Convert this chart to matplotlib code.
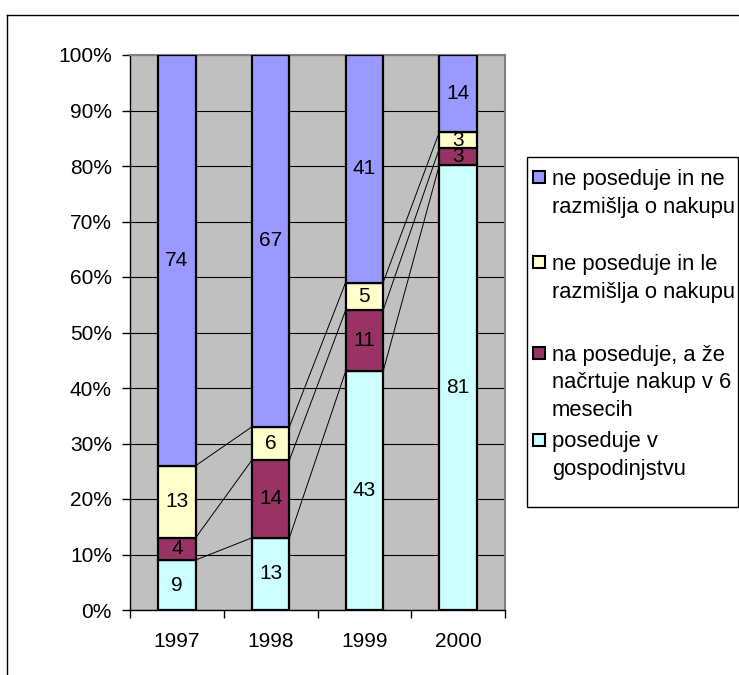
import matplotlib
matplotlib.use("Agg")
import matplotlib.pyplot as plt
from matplotlib.patches import Rectangle
from matplotlib.lines import Line2D
import numpy as np

plt.rcParams['font.family'] = ['Liberation Sans', 'DejaVu Sans']

years = ['1997', '1998', '1999', '2000']
series_names = [
    'poseduje v\ngospodinjstvu',
    'na poseduje, a že\nnačrtuje nakup v 6\nmesecih',
    'ne poseduje in le\nrazmišlja o nakupu',
    'ne poseduje in ne\nrazmišlja o nakupu',
]
poseduje = [9, 13, 43, 81]
nacrtuje = [4, 14, 11, 3]
le_razmislja = [13, 6, 5, 3]
ne_razmislja = [74, 67, 41, 14]
colors = ['#CCFFFF', '#993366', '#FFFFCC', '#9999FF']

data = np.array([poseduje, nacrtuje, le_razmislja, ne_razmislja], dtype=float)
totals = data.sum(axis=0)
pct = data / totals * 100

FS = 15
LFS = 15.8

fig = plt.figure(figsize=(7.39, 6.75), dpi=100)
ax = fig.add_axes([130/739, 1-610/675, 375/739, 555/675])
ax.set_facecolor('#C0C0C0')

x = np.arange(len(years))
width = 0.4
bottom = np.zeros(len(years))
for i in range(4):
    ax.bar(x, pct[i], width, bottom=bottom, color=colors[i], edgecolor='black',
           linewidth=1.6, zorder=3)
    for j in range(len(years)):
        ax.text(x[j], bottom[j] + pct[i][j]/2, f'{int(data[i][j])}', ha='center', va='center',
                fontsize=FS, zorder=4)
    bottom = bottom + pct[i]

# series lines
cum = np.cumsum(pct, axis=0)
for i in range(3):
    for j in range(len(years)-1):
        ax.plot([x[j] + width/2, x[j+1] - width/2], [cum[i][j], cum[i][j+1]],
                color='black', linewidth=0.7, zorder=2)

ax.set_xlim(-0.5, 3.5)
ax.set_ylim(0, 100)
ax.set_yticks(np.arange(0, 101, 10))
ax.set_yticklabels([f'{v}%' for v in range(0, 101, 10)], fontsize=FS)
ax.yaxis.grid(True, color='black', linewidth=0.8, zorder=1)
ax.set_axisbelow(True)
ax.tick_params(axis='y', length=6, width=1, pad=7, direction='out')

ax.set_xticks(x)
ax.set_xticklabels(years, fontsize=FS)
ax.set_xticks(np.arange(-0.5, 4, 1), minor=True)
ax.tick_params(axis='x', which='major', length=0, pad=16)
ax.tick_params(axis='x', which='minor', length=6, width=1, direction='out')

for s in ['top', 'right']:
    ax.spines[s].set_color('#808080')
    ax.spines[s].set_linewidth(1.5)
for s in ['left', 'bottom']:
    ax.spines[s].set_color('black')
    ax.spines[s].set_linewidth(1)

# outer frame (chart area)
W, H = 739, 675
fig.add_artist(Line2D([7/W, 1.0], [1-15/H, 1-15/H], color='black', linewidth=1, transform=fig.transFigure))
fig.add_artist(Line2D([7/W, 7/W], [1-15/H, 0], color='black', linewidth=1, transform=fig.transFigure))

# legend box
fig.add_artist(Rectangle((527/W, 1-507/H), (738-527)/W, (507-157)/H, transform=fig.transFigure,
                         facecolor='white', edgecolor='black', linewidth=1))
legend_order = [3, 2, 1, 0]
centers = [177, 262, 353, 440]
for k, idx in enumerate(legend_order):
    c = centers[k]
    fig.add_artist(Rectangle((533/W, 1-(c+6)/H), 12/W, 12/H, transform=fig.transFigure,
                             facecolor=colors[idx], edgecolor='black', linewidth=1.5))
    for n, line in enumerate(series_names[idx].split('\n')):
        fig.text(552/W, 1-(c + 2 + n*28)/H, line, ha='left', va='center', fontsize=LFS)

fig.savefig('out.png', dpi=100)
